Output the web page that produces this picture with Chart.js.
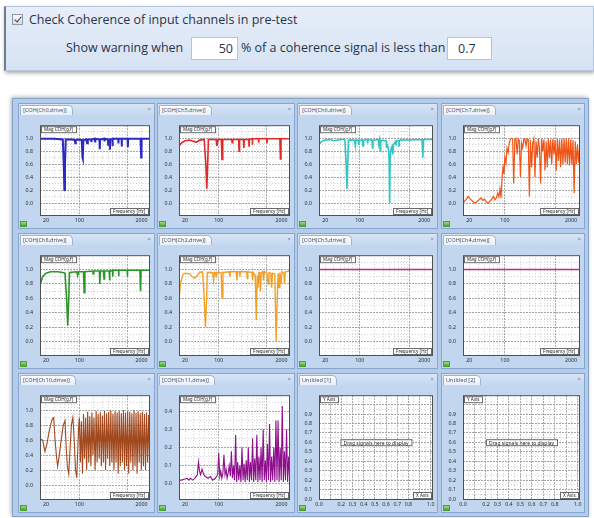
<!DOCTYPE html>
<html>
<head>
<meta charset="utf-8">
<script src="https://cdn.jsdelivr.net/npm/chart.js@4.4.1/dist/chart.umd.min.js"></script>
<style>
  body { margin: 0; width: 594px; height: 518px; overflow: hidden; background: #fff; position: relative; font-family: "Open Sans", sans-serif; }
  #setup { position: absolute; left: 4px; top: 6px; width: 590px; height: 65px; box-sizing: border-box;
    background: linear-gradient(#e6eef9, #d6e2f3); border: 1px solid #b7c6da; border-left: 2px solid #707d90;
    box-shadow: 1px 2px 4px rgba(0,0,0,.35); color: #27344c; font-size: 12.5px; }
  #setup span { position: absolute; white-space: nowrap; }
  .check { position: absolute; left: 6px; top: 7px; width: 11px; height: 11px; box-sizing: border-box;
    border: 1px solid #8f99a8; background: linear-gradient(#f7f7f7, #dadde2); }
  .check::after { content: ""; position: absolute; left: 3px; top: 0px; width: 3px; height: 6px;
    border: solid #3b4452; border-width: 0 1.5px 1.5px 0; transform: rotate(40deg); }
  .field { position: absolute; top: 30px; height: 23px; box-sizing: border-box; background: #fff;
    border: 1px solid #b9c2cf; font-size: 12.5px; line-height: 21px; color: #27344c; }
  #frame { position: absolute; left: 12px; top: 98px; width: 577px; height: 419px; box-sizing: border-box;
    background: #b4cbe9; border: 1px solid #86a3cc; box-shadow: -1px -1px 4px rgba(0,0,0,.3); }
  .panel { position: absolute; box-sizing: border-box; background: #c2d6ef; border: 1px solid #86a5cf; }
  .strip { position: absolute; left: 0; top: 0; right: 0; height: 11px; background: linear-gradient(#d7e4f5, #c5d8f0); }
  .tab { position: absolute; left: 1px; top: 1px; height: 10px; padding: 0 5px 0 2px; box-sizing: border-box;
    background: linear-gradient(#ffffff, #e6eef9); border: 1px solid #9fb3cf; border-bottom: none;
    border-radius: 1px 5px 0 0; font-size: 5.6px; line-height: 9px; color: #3a4660; white-space: nowrap; }
  .close { position: absolute; right: 3px; top: 1px; font-size: 6px; line-height: 9px; color: #6c7b92; }
  .panel canvas { position: absolute; left: 0; top: 11px; }
  .icon { position: absolute; left: 1px; bottom: 1px; width: 7px; height: 6px; border: 1px solid #4f9a3a;
    background: linear-gradient(#9fdc7d, #45a52e); box-sizing: border-box; }
</style>
</head>
<body>
<div id="setup">
  <div class="check"></div>
  <span style="left:23px; top:4px">Check Coherence of input channels in pre-test</span>
  <span style="left:60px; top:32px">Show warning when</span>
  <div class="field" style="left:185px; width:47px; text-align:right; padding-right:4px">50</div>
  <span style="left:235px; top:32px">% of a coherence signal is less than</span>
  <div class="field" style="left:441px; width:45px; padding-left:10px">0.7</div>
</div>
<div id="frame"></div>

<script>
Chart.defaults.font.family = '"Noto Sans", sans-serif'
Chart.defaults.font.size = 5.3
Chart.defaults.color = '#2e2e2e'
Chart.defaults.animation = false



// frequency axis (log) and coherence axis
const freqGrid = [20, 30, 40, 50, 60, 70, 80, 90, 100, 200, 300, 400, 500, 600, 700, 800, 900, 1000, 2000]
const freqMajor = [100, 1000]
const freqLabels = [20, 100, 2000]

const cohGrid = [-0.1, 0, 0.1, 0.2, 0.3, 0.4, 0.5, 0.6, 0.7, 0.8, 0.9, 1.0, 1.1]
const cohLabels = [0, 0.2, 0.4, 0.6, 0.8, 1.0]

const lowCohGrid = [-0.05, 0, 0.05, 0.1, 0.15, 0.2, 0.25, 0.3, 0.35, 0.4, 0.45]
const lowCohLabels = [0, 0.1, 0.2, 0.3, 0.4]

const unitGrid = [0, 0.05, 0.1, 0.15, 0.2, 0.25, 0.3, 0.35, 0.4, 0.45, 0.5, 0.55, 0.6, 0.65, 0.7, 0.75, 0.8, 0.85, 0.9, 0.95, 1.0]
const unitMajor = [0, 0.1, 0.2, 0.3, 0.4, 0.5, 0.6, 0.7, 0.8, 0.9, 1.0]
const unitXLabels = [0, 0.2, 0.3, 0.4, 0.5, 0.6, 0.7, 0.8, 1.0]
const unitYLabels = [0, 0.1, 0.2, 0.3, 0.4, 0.5, 0.6, 0.7, 0.8, 0.9]


// coherence curves, [Hz, coherence]
const ch0 = [[15,0.99],[30,0.99],[45,0.98],[47,0.6],[48.5,0.2],[50,0.6],[52,0.98],[70,0.98],[80,0.97],[82,0.92],[84,0.97],
  [95,0.98],[112,0.97],[116,0.7],[118,0.68],[121,0.97],[140,0.98],[145,0.92],[150,0.98],[175,0.98],[178,0.94],[181,0.98],
  [210,0.99],[213,0.95],[216,0.99],[262,0.98],[267,0.83],[272,0.98],[330,0.99],[335,0.95],[340,0.99],[395,0.98],[400,0.9],
  [405,0.98],[430,0.98],[436,0.82],[442,0.98],[490,0.99],[495,0.88],[500,0.99],[650,0.99],[655,0.92],[660,0.99],[765,0.99],
  [770,0.87],[776,0.99],[1020,0.99],[1033,0.86],[1045,0.99],[1900,0.99],[1960,0.7],[2000,0.99],[3000,0.99]]

const ch5 = [[15,0.88],[17,0.93],[20,0.96],[25,0.97],[30,0.95],[35,0.94],[40,0.97],[50,0.98],[54,0.6],[56.5,0.22],[59,0.6],
  [61,0.98],[88,0.98],[92,0.88],[96,0.98],[113,0.98],[117,0.67],[121,0.98],[185,0.98],[190,0.93],[195,0.98],[258,0.98],
  [264,0.8],[270,0.98],[325,0.98],[332,0.85],[338,0.98],[420,0.98],[425,0.88],[430,0.98],[495,0.99],[500,0.9],[505,0.99],
  [665,0.99],[670,0.93],[675,0.99],[990,0.99],[1000,0.92],[1010,0.99],[1850,0.99],[1900,0.68],[1950,0.99],[3000,0.99]]

const ch6 = [[15,0.9],[17,0.95],[20,0.97],[25,0.98],[30,0.96],[40,0.98],[50,0.98],[53,0.6],[55,0.22],[57,0.6],[59,0.97],
  [78,0.97],[81,0.88],[84,0.97],[93,0.97],[95,0.9],[97,0.97],[113,0.97],[116,0.88],[119,0.97],[140,0.98],[144,0.92],
  [148,0.98],[176,0.97],[180,0.85],[184,0.97],[236,0.98],[240,0.92],[250,0.98],[258,0.8],[264,0.97],[340,0.96],[347,0.85],
  [355,0.9],[375,0.85],[390,0.7],[400,0.0],[410,0.7],[430,0.85],[455,0.88],[465,0.75],[475,0.9],[535,0.95],[540,0.9],
  [545,0.96],[615,0.96],[620,0.88],[625,0.97],[1800,0.98],[1870,0.7],[1920,0.98],[3000,0.98]]

const ch8 = [[15,0.78],[17,0.9],[20,0.95],[25,0.97],[35,0.97],[45,0.96],[50,0.95],[54,0.6],[57,0.22],[60,0.6],[62,0.96],
  [88,0.97],[92,0.92],[96,0.97],[122,0.97],[126,0.68],[130,0.97],[190,0.98],[195,0.94],[200,0.98],[262,0.98],[268,0.8],
  [274,0.98],[320,0.98],[328,0.87],[336,0.98],[420,0.98],[428,0.85],[436,0.98],[495,0.99],[500,0.9],[505,0.99],[660,0.99],
  [665,0.91],[670,0.99],[1000,0.99],[1010,0.9],[1020,0.99],[1850,0.99],[1900,0.7],[1950,0.99],[3000,0.99]]

const ch2 = [[15,0.55],[16,0.8],[18,0.93],[20,0.95],[25,0.94],[28,0.9],[32,0.88],[36,0.92],[40,0.96],[46,0.97],[50,0.6],
  [53,0.2],[56,0.6],[58,0.96],[75,0.96],[78,0.85],[81,0.96],[86,0.96],[88,0.9],[90,0.96],[112,0.96],[117,0.6],[122,0.96],
  [165,0.97],[170,0.9],[175,0.97],[230,0.97],[238,0.85],[246,0.97],[270,0.97],[275,0.9],[280,0.97],[380,0.97],[390,0.88],
  [400,0.97],[490,0.96],[505,0.85],[520,0.96],[570,0.92],[600,0.3],[630,0.92],[650,0.75],[680,0.96],[700,0.96],[730,0.7],
  [760,0.96],[820,0.97],[850,0.85],[880,0.97],[1000,0.95],[1050,0.8],[1100,0.96],[1200,0.95],[1250,0.75],[1300,0.95],
  [1450,0.94],[1550,0.0],[1620,0.5],[1700,0.95],[1780,0.75],[1850,0.96],[1950,0.8],[2050,0.97],[2250,0.95],[2300,0.8],
  [2400,0.97],[3000,0.98]]

const ch3 = [[15,1.0],[3000,1.0]]
const ch4 = [[15,1.0],[3000,1.0]]

// low band of the noisy channels, [Hz, coherence]
const ch7Low = [[15,0.0],[17,0.05],[19,0.1],[21,0.06],[23,0.03],[25,0.0],[28,0.02],[31,0.05],[34,0.08],[37,0.04],[40,0.06],
  [43,0.02],[47,0.0],[51,0.03],[55,0.06],[60,0.1],[64,0.05],[68,0.08],[72,0.15],[76,0.1],[80,0.22],[84,0.08],[88,0.4],
  [92,0.55],[96,0.45]]
const ch10Low = [[15,0.62],[17,0.6],[19,0.45],[21,0.55],[23,0.7],[25,0.8],[27,0.88],[29,0.9],[31,0.6],[33,0.4],[35,0.25],
  [38,0.4],[42,0.62],[46,0.8],[50,0.86],[53,0.5],[56,0.25],[60,0.15],[64,0.5],[68,0.8],[73,0.9],[78,0.6],[83,0.2],[88,0.1],
  [93,0.5],[97,0.8]]
const ch11Low = [[15,0.02],[17,0.02],[19,0.025],[22,0.03],[24,0.02],[26,0.03],[29,0.02],[32,0.03],[36,0.05],[38,0.12],
  [40,0.07],[42,0.05],[45,0.08],[49,0.05],[53,0.04],[60,0.03],[67,0.04],[75,0.02],[85,0.03],[95,0.05]]

// upper band, sampled on a common frequency list
const denseHz = [100,105,110,116,122,128,135,142,149,157,165,174,183,192,202,213,224,235,247,260,
  274,288,303,319,335,353,371,390,410,432,454,478,503,529,556,585,616,648,681,717,
  754,793,834,878,923,971,1022,1075,1131,1189,1251,1316,1385,1457,1532,1612,1696,1784,1877,1974,
  2077,2185,2298,2418,2544,2677,2816,2963]
const ch7High = [0.7,0.62,0.85,0.78,0.93,0.98,1.0,0.99,0.3,0.98,1.0,0.75,0.99,0.97,0.4,0.92,0.85,0.98,0.99,0.88,
  0.99,0.98,0.1,0.97,0.55,0.92,0.99,0.4,0.95,0.7,0.99,0.85,0.3,0.99,0.8,0.98,0.5,0.95,0.55,0.99,
  0.7,0.98,0.6,0.99,0.75,0.97,0.5,0.99,0.65,0.98,0.55,0.99,0.6,1.0,0.62,0.99,0.6,1.0,0.58,0.98,
  0.6,0.97,0.15,0.95,0.6,0.9,0.62,0.85]
const ch10High = [0.9,0.3,0.85,0.15,0.95,0.35,0.9,0.2,0.98,0.3,0.92,0.25,0.97,0.4,0.9,0.2,0.99,0.3,0.95,0.35,
  0.98,0.25,0.93,0.3,0.99,0.2,0.96,0.35,0.98,0.25,1.0,0.3,0.95,0.2,0.99,0.3,0.97,0.15,0.99,0.25,
  0.96,0.3,1.0,0.2,0.97,0.25,0.99,0.15,0.98,0.3,0.96,0.2,1.0,0.25,0.97,0.15,0.99,0.3,0.96,0.2,
  0.98,0.25,0.95,0.2,0.97,0.3,0.94,0.25]
const ch11High = [0.17,0.04,0.07,0.03,0.06,0.16,0.05,0.08,0.03,0.06,0.1,0.04,0.18,0.03,0.1,0.02,0.27,0.01,0.12,0.02,
  0.1,0.01,0.2,0.02,0.11,0.01,0.13,0.02,0.2,0.01,0.12,0.02,0.25,0.01,0.14,0.02,0.27,0.01,0.15,0.02,
  0.2,0.01,0.3,0.02,0.13,0.01,0.22,0.02,0.33,0.01,0.15,0.02,0.2,0.01,0.35,0.02,0.35,0.01,0.2,0.02,
  0.43,0.01,0.18,0.02,0.3,0.01,0.15,0.02]

const joinBands = (low, high) => low.concat(denseHz.map((hz, i) => [hz, high[i]]))


const colLeft = [18, 157, 297, 441]
const colWidth = [137, 138, 141, 144]
const rowTop = [103, 233, 373]
const rowHeight = [126, 136, 140]

const panels = [
  { title: '[COH(Ch0,drive)]', data: ch0, color: '#2a2ac4', width: 2 },
  { title: '[COH(Ch5,drive)]', data: ch5, color: '#e02a2a', width: 1.6 },
  { title: '[COH(Ch6,drive)]', data: ch6, color: '#2ec6c6', width: 1.6 },
  { title: '[COH(Ch7,drive)]', data: joinBands(ch7Low, ch7High), color: '#f05516', width: 1.2 },
  { title: '[COH(Ch8,drive)]', data: ch8, color: '#2a962a', width: 1.6 },
  { title: '[COH(Ch2,drive)]', data: ch2, color: '#f2a024', width: 1.4 },
  { title: '[COH(Ch3,drive)]', data: ch3, color: '#b8307e', width: 1.5 },
  { title: '[COH(Ch4,drive)]', data: ch4, color: '#b8307e', width: 1.5 },
  { title: '[COH(Ch10,drive)]', data: joinBands(ch10Low, ch10High), color: '#a2481e', width: 1.1 },
  { title: '[COH(Ch11,drive)]', data: joinBands(ch11Low, ch11High), color: '#8e0e8e', width: 1.1, low: true },
  { title: 'Untitled [1]', empty: true },
  { title: 'Untitled [2]', empty: true }
]


const near = (list, v) => list.some(l => Math.abs(l - v) < 1e-6)

const tagBox = (ctx, text, x, y, align) => {
  const w = Math.ceil(ctx.measureText(text).width) + 6
  const left = align === 'right' ? x - w : x
  ctx.fillStyle = '#fff'
  ctx.fillRect(left, y, w, 7)
  ctx.strokeStyle = '#6a6a6a'
  ctx.lineWidth = 1
  ctx.strokeRect(left + .5, y + .5, w - 1, 6)
  ctx.fillStyle = '#222'
  ctx.textBaseline = 'middle'
  ctx.textAlign = 'left'
  ctx.fillText(text, left + 3, y + 4)
}

// white plot area, frame and the little caption boxes
const plotDecor = {
  id: 'plotDecor',
  beforeDraw(chart) {
    const { ctx, chartArea: a } = chart
    ctx.save()
    ctx.fillStyle = '#fff'
    ctx.fillRect(a.left, a.top, a.right - a.left, a.bottom - a.top)
    ctx.restore()
  },
  afterDraw(chart, args, opts) {
    const { ctx, chartArea: a } = chart
    ctx.save()
    ctx.strokeStyle = '#505050'
    ctx.lineWidth = 1
    ctx.strokeRect(a.left + .5, a.top + .5, a.right - a.left - 1, a.bottom - a.top - 1)
    ctx.font = '4.6px "Noto Sans"'
    tagBox(ctx, opts.yTitle, a.left + 1, a.top + 1, 'left')
    tagBox(ctx, opts.xTitle, a.right - 1, a.bottom - 8, 'right')
    if (opts.note) {
      ctx.font = '5px "Noto Sans"'
      const w = ctx.measureText(opts.note).width + 6
      tagBox(ctx, opts.note, (a.left + a.right - w) / 2, a.top + (a.bottom - a.top) * 0.42, 'left')
    }
    ctx.restore()
  }
}


const axis = ({ type, min, max, grid, labels, major, fmt, size, pos }) => ({
  type, min, max, position: pos,
  afterBuildTicks: s => { s.ticks = grid.map(v => ({ value: v })) },
  afterFit: s => { if (pos === 'left') s.width = size; else s.height = size },
  ticks: {
    autoSkip: false, maxRotation: 0, padding: pos === 'left' ? 7 : 1,
    callback: v => near(labels, v) ? fmt(v) : ''
  },
  grid: {
    drawTicks: false,
    color: c => near(major, c.tick ? c.tick.value : NaN) ? '#a5a5a5' : '#d0d0d0'
  },
  border: {
    display: false,
    dash: c => near(major, c.tick ? c.tick.value : NaN) ? [2, 1] : [1, 2]
  }
})


const renderPanel = (p, i) => {
  const row = Math.floor(i / 4), col = i % 4
  const w = colWidth[col], h = rowHeight[row]

  const box = document.createElement('div')
  box.className = 'panel'
  box.style.cssText = `left:${colLeft[col]}px; top:${rowTop[row]}px; width:${w}px; height:${h}px`
  box.innerHTML = `<div class="strip"><div class="tab">${p.title}</div><div class="close">×</div></div><div class="icon"></div>`
  const canvas = document.createElement('canvas')
  canvas.width = w - 2
  canvas.height = h - 13
  box.insertBefore(canvas, box.lastChild)
  document.body.appendChild(box)

  let scales, decor
  if (p.empty) {
    scales = {
      x: axis({ type: 'linear', min: 0, max: 1.02, grid: unitGrid, labels: unitXLabels, major: unitMajor, fmt: v => v.toFixed(1), size: 12, pos: 'bottom' }),
      y: axis({ type: 'linear', min: -0.01, max: 1.1, grid: unitGrid, labels: unitYLabels, major: unitMajor, fmt: v => v.toFixed(1), size: 21, pos: 'left' })
    }
    decor = { yTitle: 'Y Axis', xTitle: 'X Axis', note: 'Drag signals here to display' }
  } else {
    scales = {
      x: axis({ type: 'logarithmic', min: 15, max: 3000, grid: freqGrid, labels: freqLabels, major: freqMajor, fmt: v => String(v), size: 12, pos: 'bottom' }),
      y: p.low
        ? axis({ type: 'linear', min: -0.09, max: 0.49, grid: lowCohGrid, labels: lowCohLabels, major: lowCohLabels, fmt: v => v.toFixed(1), size: 21, pos: 'left' })
        : axis({ type: 'linear', min: -0.2, max: 1.2, grid: cohGrid, labels: cohLabels, major: cohLabels, fmt: v => v.toFixed(1), size: 21, pos: 'left' })
    }
    decor = { yTitle: 'Mag COH(g,f)', xTitle: 'Frequency [Hz]' }
  }

  const data = {
    datasets: p.empty ? [] : [{
      data: p.data,
      borderColor: p.color,
      borderWidth: p.width,
      pointRadius: 0,
      tension: 0
    }]
  }

  const options = {
    responsive: false,
    devicePixelRatio: 1,
    layout: { padding: { top: 6, right: 4, left: 0, bottom: 0 } },
    plugins: { legend: { display: false }, tooltip: { enabled: false }, plotDecor: decor },
    scales
  }

  new Chart(canvas, { type: 'line', data, options, plugins: [plotDecor] })
}


panels.forEach(renderPanel)
</script>
</body>
</html>
